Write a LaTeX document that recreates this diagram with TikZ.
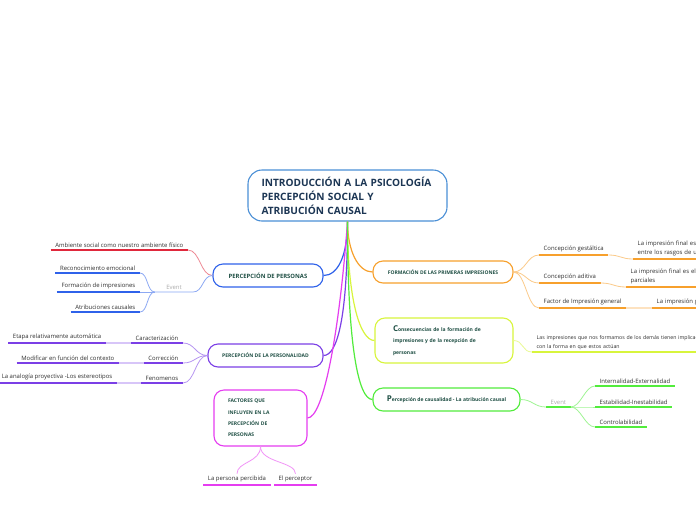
\documentclass[tikz,border=0pt]{standalone}
\usepackage{fontspec}
\setmainfont{Open Sans}
\usetikzlibrary{positioning}
\definecolor{Navy}{HTML}{1C3654}
\definecolor{Teal}{HTML}{1F4F44}
\definecolor{Ink}{HTML}{2E2E2E}
\definecolor{Root}{HTML}{4A8FD6}
\definecolor{Blue}{HTML}{2F62EA}
\definecolor{Red}{HTML}{E0283C}
\definecolor{Purple}{HTML}{7B3FE6}
\definecolor{Magenta}{HTML}{E53DF0}
\definecolor{Orange}{HTML}{F7A02C}
\definecolor{Lime}{HTML}{D8F53C}
\definecolor{Green}{HTML}{52EC3C}
\definecolor{Grey}{HTML}{AAAAAA}

\begin{document}
\begin{tikzpicture}[
    x=1pt, y=-1pt,
    font=\fontsize{5.95}{7}\selectfont,
    root/.style={
        rounded corners=14pt,
        draw=Root,
        line width=1.1pt,
        fill=white,
        text=Navy,
        align=left,
        inner sep=0pt,
        font=\fontsize{10.1}{14}\selectfont\bfseries
    },
    topic/.style={
        rounded corners=10pt,
        draw=#1,
        line width=1.1pt,
        fill=white,
        text=Teal,
        inner sep=0pt,
        font=\fontsize{5}{6}\selectfont\bfseries
    },
    leaf/.style={
        text=Ink,
        inner xsep=4.5pt,
        inner ysep=2.5pt,
        append after command={(\tikzlastnode.south west) edge[draw=#1, line width=1.6pt] (\tikzlastnode.south east)}
    },
    event/.style={leaf=#1, text=Grey},
    link/.style={draw=#1, line width=1.2pt},
    twig/.style={draw=#1!55, line width=0.8pt},
    bridge/.style={draw=#1!30, line width=1.2pt}
]

% Background
\fill[white] (0,0) rectangle (696,520);
\useasboundingbox (0,0) rectangle (696,520);
\clip (0,0) rectangle (696,520);

% Central topic
\node[root, minimum width=199, minimum height=51, text width=172] (root) at (347.5,195.5)
{INTRODUCCIÓN A LA PSICOLOGÍA\\PERCEPCIÓN SOCIAL Y\\ATRIBUCIÓN CAUSAL};

% Main topics
\node[topic=Blue, minimum width=110, minimum height=23, font=\fontsize{5.9}{7}\selectfont\bfseries] (personas) at (268,275.5)
{PERCEPCIÓN DE PERSONAS};
\node[topic=Purple, minimum width=115, minimum height=23] (personalidad) at (265.5,355.5)
{PERCEPCIÓN DE LA PERSONALIDAD};
\node[topic=Magenta, minimum width=93, minimum height=56, text width=65, align=left,
      font=\fontsize{5}{11.3}\selectfont\bfseries] (factores) at (260.5,418)
{FACTORES QUE\\INFLUYEN EN LA\\PERCEPCIÓN DE\\PERSONAS};
\node[topic=Orange, minimum width=140, minimum height=22] (formacion) at (443,272)
{FORMACIÓN DE LAS PRIMERAS IMPRESIONES};
\node[topic=Lime, minimum width=138, minimum height=45, text width=102, align=left,
      font=\fontsize{5}{11.3}\selectfont\bfseries] (consecuencias) at (444,340.5)
{{\fontsize{8}{8}\selectfont C}onsecuencias de la formación de\\impresiones y de la recepción de\\personas};
\node[topic=Green, minimum width=147, minimum height=23] (causalidad) at (446.5,399.5)
{{\fontsize{8}{8}\selectfont P}ercepción de causalidad - La atribución causal};

\draw[link=Blue] (root.south) .. controls +(0,35) and +(14,0) .. (personas.east);
\draw[link=Purple] (root.south) .. controls +(0,95) and +(14,0) .. (personalidad.east);
\draw[link=Magenta] (root.south) .. controls +(-8,110) and +(16,0) .. (factores.east);
\draw[link=Orange] (root.south) .. controls +(0,30) and +(-14,0) .. (formacion.west);
\draw[link=Lime] (root.south) .. controls +(0,80) and +(-14,0) .. (consecuencias.west);
\draw[link=Green] (root.south) .. controls +(0,125) and +(-14,0) .. (causalidad.west);

% Percepcion de personas
\node[leaf=Red, anchor=south east] (ambiente) at (188,250)
{Ambiente social como nuestro ambiente físico};
\node[event=Blue!20, anchor=south, minimum width=38] (eventa) at (174,292) {Event};
\node[leaf=Blue, anchor=south east] (reconoc) at (140,273) {Reconocimiento emocional};
\node[leaf=Blue, anchor=south east] (impres) at (140,292) {Formación de impresiones};
\node[leaf=Blue, anchor=south east] (atrib) at (140,312) {Atribuciones causales};

\draw[twig=Red] (personas.west) .. controls +(-12,0) and +(12,0) .. (ambiente.south east);
\draw[twig=Blue] (personas.west) .. controls +(-10,0) and +(10,0) .. (eventa.south east);
\foreach \n in {reconoc,impres,atrib}
  \draw[twig=Blue] (eventa.south west) .. controls +(-8,0) and +(8,0) .. (\n.south east);

% Percepcion de la personalidad
\node[leaf=Purple, anchor=south east] (caract) at (183,343) {Caracterización};
\node[leaf=Purple, anchor=south east] (correc) at (183,363) {Corrección};
\node[leaf=Purple, anchor=south east] (fenom) at (183,383) {Fenomenos};
\node[leaf=Purple, anchor=south east] (etapa) at (106,343) {Etapa relativamente automática};
\node[leaf=Purple, anchor=south east] (modif) at (119,363) {Modificar en función del contexto};
\node[leaf=Purple, anchor=south east] (analog) at (117,383) {La analogía proyectiva -Los estereotipos};

\foreach \n in {caract,correc,fenom}
  \draw[twig=Purple] (personalidad.west) .. controls +(-12,0) and +(12,0) .. (\n.south east);
\draw[bridge=Purple] (etapa.south east) -- (caract.south west);
\draw[bridge=Purple] (modif.south east) -- (correc.south west);
\draw[bridge=Purple] (analog.south east) -- (fenom.south west);

% Factores
\node[leaf=Magenta, anchor=south] (percibida) at (237,485) {La persona percibida};
\node[leaf=Magenta, anchor=south] (perceptor) at (295.5,485) {El perceptor};

\draw[twig=Magenta] (factores.south) .. controls +(0,16) and +(0,-12) .. (percibida.north);
\draw[twig=Magenta] (factores.south) .. controls +(0,16) and +(0,-12) .. (perceptor.north);

% Formacion de las primeras impresiones
\node[leaf=Orange, anchor=south west] (gestalt) at (539,255) {Concepción gestáltica};
\node[leaf=Orange, anchor=south west] (aditiva) at (539,283) {Concepción aditiva};
\node[leaf=Orange, anchor=south west] (general) at (539,308) {Factor de Impresión general};
\node[leaf=Orange, anchor=south west, text width=80, align=left, font=\fontsize{5.95}{9}\selectfont] (gestaltd) at (633,259)
{La impresión final es\\entre los rasgos de u};
\node[leaf=Orange, anchor=south west, text width=80, align=left, font=\fontsize{5.95}{9}\selectfont] (aditivad) at (626,287)
{La impresión final es el r\\parciales};
\node[leaf=Orange, anchor=south west, text width=60, align=left] (generald) at (652,308) {La impresión g};

\foreach \n in {gestalt,aditiva,general}
  \draw[twig=Orange] (formacion.east) .. controls +(12,0) and +(-12,0) .. (\n.south west);
\draw[twig=Orange] (gestalt.south east) .. controls +(12,0) and +(-12,0) .. (gestaltd.south west);
\draw[twig=Orange] (aditiva.south east) .. controls +(12,0) and +(-12,0) .. (aditivad.south west);
\draw[bridge=Orange] (general.south east) -- (generald.south west);

% Consecuencias
\node[leaf=Lime, anchor=south west, text width=200, align=left, font=\fontsize{5.2}{9}\selectfont] (implic) at (532,352)
{Las impresiones que nos formamos de los demás tienen implicac\\con la forma en que estos actúan};

\draw[twig=Lime] (consecuencias.east) .. controls +(10,0) and +(-10,0) .. (implic.south west);

% Percepcion de causalidad
\node[event=Green, anchor=south west] (eventb) at (546,407) {Event};
\node[leaf=Green, anchor=south west] (internal) at (595,386) {Internalidad-Externalidad};
\node[leaf=Green, anchor=south west] (estab) at (595,407) {Estabilidad-Inestabilidad};
\node[leaf=Green, anchor=south west] (control) at (595,427) {Controlabilidad};

\draw[twig=Green] (causalidad.east) .. controls +(12,0) and +(-12,0) .. (eventb.south west);
\foreach \n in {internal,estab,control}
  \draw[twig=Green] (eventb.south east) .. controls +(10,0) and +(-10,0) .. (\n.south west);

\end{tikzpicture}
\end{document}
